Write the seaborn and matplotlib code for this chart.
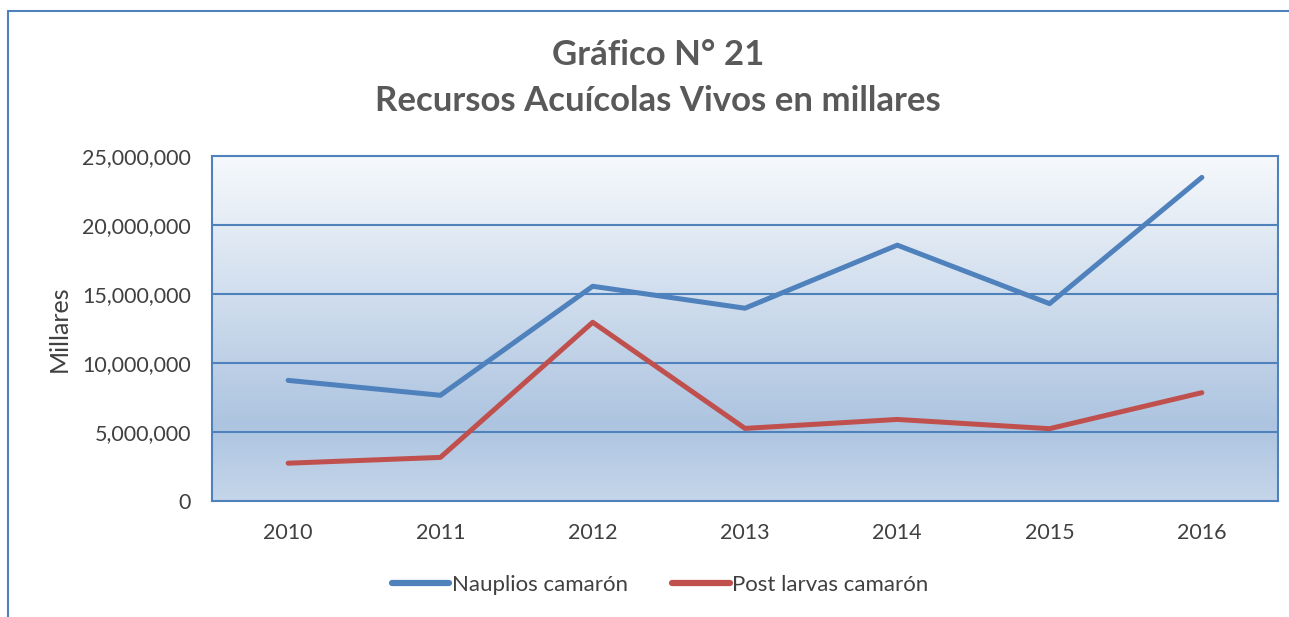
import numpy as np
import pandas as pd
import matplotlib
matplotlib.use("Agg")
import matplotlib.pyplot as plt
from matplotlib.colors import LinearSegmentedColormap
from matplotlib.ticker import FuncFormatter
import seaborn as sns

years = ["2010", "2011", "2012", "2013", "2014", "2015", "2016"]
nauplios = [8740000, 7660000, 15560000, 13970000, 18540000, 14300000, 23450000]
post_larvas = [2740000, 3160000, 12950000, 5260000, 5910000, 5240000, 7850000]
series_names = ["Nauplios camarón", "Post larvas camarón"]

df = pd.DataFrame({
    "Año": years * 2,
    "Valor": nauplios + post_larvas,
    "Serie": [series_names[0]] * len(years) + [series_names[1]] * len(years),
})

sns.set_style("white")
plt.rcParams["font.family"] = ["Lato", "DejaVu Sans"]

fig = plt.figure(figsize=(12.89, 6.17), dpi=100)
ax = fig.add_axes([212 / 1289, 1 - 501 / 617, 1066 / 1289, 345 / 617])

# gradient background in plot area
cmap = LinearSegmentedColormap.from_list(
    "bg", [(0.0, "#c5d6ea"), (0.22, "#adc4e0"), (1.0, "#f6f9fc")])
grad = np.linspace(0, 1, 256).reshape(-1, 1)
ax.imshow(grad, aspect="auto", cmap=cmap, origin="lower",
          extent=(-0.5, 6.5, 0, 25000000), zorder=0)

sns.lineplot(data=df, x="Año", y="Valor", hue="Serie", ax=ax,
             palette=["#4f81bd", "#c0504d"], linewidth=3.6,
             solid_capstyle="round", solid_joinstyle="round", zorder=3)

ax.set_xlim(-0.5, 6.5)
ax.set_ylim(0, 25000000)
ax.set_yticks(range(0, 25000001, 5000000))
ax.yaxis.set_major_formatter(FuncFormatter(lambda v, p: f"{int(v):,}"))
for yv in range(5000000, 25000000, 5000000):
    ax.axhline(yv, color="#4f81bd", lw=1.5, zorder=1)
for s in ax.spines.values():
    s.set_color("#4f81bd")
    s.set_linewidth(1.5)

ax.tick_params(axis="both", length=0, labelsize=15.5, labelcolor="#404040")
ax.tick_params(axis="x", pad=16)
ax.tick_params(axis="y", pad=15)
ax.set_xlabel("")
ax.set_ylabel("Millares", fontsize=18, color="#404040", labelpad=8)

fig.text(658 / 1289, 1 - 55 / 617, "Gráfico N° 21", ha="center", va="center",
         fontsize=25, fontweight="bold", color="#595959")
fig.text(658 / 1289, 1 - 101 / 617, "Recursos Acuícolas Vivos en millares",
         ha="center", va="center", fontsize=25, fontweight="bold", color="#595959")

leg = ax.legend(loc="center", bbox_to_anchor=(660 / 1289, 1 - 585 / 617),
                bbox_transform=fig.transFigure, ncol=2, frameon=False,
                fontsize=16, handlelength=2.6, handletextpad=0.1,
                columnspacing=2.0)
for t in leg.get_texts():
    t.set_color("#404040")
for h in leg.get_lines():
    h.set_linewidth(4.5)

# outer chart border (left and top)
fig.add_artist(plt.Line2D([8 / 1289, 8 / 1289], [0, 1 - 11 / 617],
                          transform=fig.transFigure, color="#4f81bd", lw=1.5))
fig.add_artist(plt.Line2D([8 / 1289, 1], [1 - 11 / 617, 1 - 11 / 617],
                          transform=fig.transFigure, color="#4f81bd", lw=1.5))

fig.savefig("out.png", dpi=100)
